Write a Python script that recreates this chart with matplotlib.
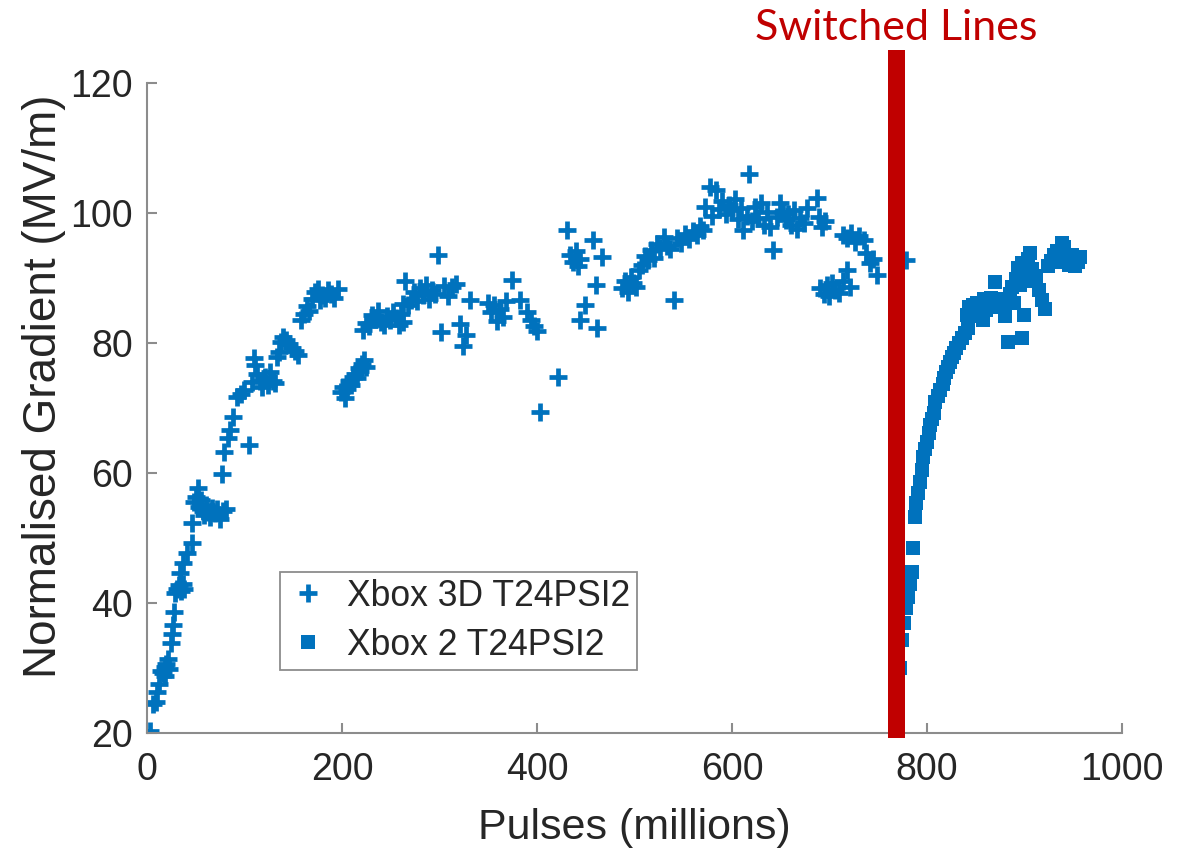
import matplotlib
matplotlib.use("Agg")
import matplotlib.pyplot as plt

# Xbox 3D T24PSI2: (pulses in millions, normalised gradient in MV/m)
xbox3d_pulses = [
    3, 6, 9, 10, 12, 14, 16, 18, 19, 20, 22, 23, 25, 26, 27, 28, 29, 31, 33, 35,
    37, 38, 34, 37, 41, 46, 46, 52, 48, 50, 53, 55, 57, 59, 61, 63, 65, 67, 70, 72,
    75, 78, 81, 77, 79, 83, 85, 88, 92, 96, 100, 105, 108, 110, 111, 113, 116, 118, 121, 124,
    126, 129, 131, 133, 135, 137, 140, 143, 146, 149, 152, 155, 158, 161, 164, 166, 169, 172, 175, 177,
    180, 183, 186, 189, 192, 196,
    199, 201, 203, 205, 207, 209, 211, 213, 215, 217, 219, 221, 223, 225,
    222, 225, 228, 231, 234, 237, 240, 243, 246, 249, 252, 255, 258, 261, 263, 263, 265, 268, 271, 274,
    277, 280, 283, 286, 289, 292, 295, 298, 302, 305, 309, 313, 317, 321, 324, 327, 331, 350, 353, 356,
    359, 362, 365, 368, 374, 383, 390, 394, 397, 400, 403, 422,
    431, 434, 437, 440, 442, 444, 444, 449, 457, 461, 462, 467,
    487, 490, 493, 496, 499, 502, 505, 508, 511, 514, 517, 520, 523, 526, 530, 533, 536, 541, 544, 548,
    552, 556, 560, 564, 567, 570, 572, 577, 580, 584, 587, 590, 594, 597, 600, 603, 606, 609, 611, 615,
    618, 621, 624, 627, 630, 633, 636, 639, 642, 646, 649, 652, 655, 658, 661, 664, 667, 670, 674, 677,
    687, 689, 692, 695,
    690, 694, 697, 700, 703, 706, 710, 714, 718, 721,
    714, 718, 722, 726, 730, 735, 738, 742, 745, 749, 779,
]
xbox3d_gradient = [
    20.3, 24.4, 24.8, 26.3, 27.5, 29.6, 29.2, 30.1, 28.8, 30.6, 31.4, 29.9, 33.8, 35.3, 36.6, 38.6, 41.5, 42.2, 42.7, 41.8,
    43.0, 42.1, 44.6, 46.2, 47.7, 49.2, 52.3, 57.7, 55.5, 56.3, 54.8, 55.9, 54.2, 53.5, 55.1, 54.0, 53.2, 54.6, 53.8, 54.4,
    53.0, 54.1, 54.5, 59.8, 63.2, 65.4, 66.6, 68.6, 71.7, 72.1, 72.8, 64.3, 74.0, 77.7, 76.6, 75.2, 74.1, 73.3, 74.8, 73.6,
    75.5, 74.2, 73.9, 77.8, 78.6, 80.2, 81.0, 80.5, 79.8, 79.3, 78.7, 78.1, 83.5, 84.4, 85.7, 85.0, 86.8, 87.9, 88.3, 86.6,
    87.4, 87.0, 88.1, 87.6, 86.9, 88.3,
    72.4, 73.3, 71.6, 72.9, 74.2, 73.5, 74.8, 75.3, 74.6, 76.1, 75.7, 76.8, 77.4, 76.3,
    82.0, 83.1, 82.6, 84.3, 83.7, 84.9, 83.2, 82.8, 84.1, 83.5, 84.7, 83.9, 82.7, 84.4, 86.0, 83.2, 89.5, 85.9, 86.6, 87.8,
    86.4, 88.5, 87.4, 88.9, 86.8, 88.2, 87.6, 93.5, 81.7, 88.8, 87.3, 88.6, 89.1, 82.9, 79.6, 81.2, 86.6, 86.2, 84.7, 85.9,
    83.4, 85.2, 84.0, 86.4, 89.7, 86.6, 84.8, 83.5, 82.6, 81.8, 69.4, 74.8,
    97.4, 93.6, 92.5, 94.1, 91.9, 93.0, 83.5, 85.8, 95.8, 88.9, 82.3, 93.2,
    88.4, 89.6, 87.9, 90.1, 89.3, 88.6, 91.2, 92.0, 93.4, 92.7, 94.3, 93.1, 95.2, 94.6, 96.3, 95.0, 94.4, 86.6, 96.1, 95.4,
    96.8, 96.0, 97.2, 96.6, 98.0, 97.4, 101.0, 104.0, 99.6, 103.5, 100.6, 101.8, 99.8, 101.2, 100.4, 102.1, 99.1, 100.8, 97.4, 99.6,
    106.0, 98.7, 100.9, 99.3, 101.5, 98.2, 100.1, 97.8, 94.3, 99.4, 101.6, 100.2, 98.9, 99.8, 98.1, 100.5, 97.6, 99.2, 98.5, 100.7,
    102.3, 99.4, 97.9, 98.8,
    88.4, 87.6, 88.9, 87.2, 89.3, 88.1, 87.7, 89.5, 91.2, 88.6,
    96.6, 96.1, 96.9, 95.6, 96.4, 95.8, 93.8, 92.3, 92.9, 90.5, 92.8,
]

# Xbox 2 T24PSI2
xbox2_pulses = [
    772, 774, 776, 779, 781, 783, 785, 786, 788, 789, 791, 793, 795, 796, 798, 800, 802, 803, 805, 807,
    808, 811, 813, 816, 818, 820, 822, 824, 826, 828, 830, 833, 836, 839, 842, 841, 843, 845, 847, 849,
    851, 853, 855, 857, 859, 861, 864, 866, 868, 870, 872, 875, 877, 880, 883, 885, 887, 889, 891, 893,
    895, 897, 898, 900, 902, 904, 906, 908, 910, 912, 915, 918, 921, 924, 927, 930, 933, 936, 939, 941,
    943, 946, 949, 952, 955, 957,
]
xbox2_gradient = [
    30.0, 34.3, 37.0, 39.2, 40.9, 43.0, 44.8, 48.5, 53.3, 55.4, 57.0, 58.6, 60.5, 62.5, 63.7, 64.8, 66.1, 67.4, 68.3, 69.2,
    70.9, 71.8, 72.8, 73.7, 74.6, 75.5, 76.3, 77.1, 77.8, 78.5, 79.2, 80.0, 80.8, 81.5, 82.3, 84.3, 85.6, 84.8, 85.9, 84.1,
    86.2, 85.3, 84.6, 83.5, 86.8, 85.1, 86.4, 87.0, 85.7, 89.4, 86.3, 85.5, 86.8, 84.2, 80.2, 87.5, 88.6, 86.1, 89.9, 91.5,
    88.9, 92.3, 80.8, 84.3, 90.7, 92.9, 93.8, 91.4, 89.6, 90.3, 88.2, 86.6, 85.3, 91.8, 92.6, 93.5, 94.1, 92.4, 95.4, 94.7,
    93.1, 92.0, 93.6, 91.8, 92.5, 93.3,
]

switch_start, switch_end = 760, 777

blue = "#0072BD"
text_col = "#262626"
axis_col = "#8c8c8c"

plt.rcParams["font.family"] = ["Liberation Sans", "DejaVu Sans"]

fig = plt.figure(figsize=(11.89, 8.49), dpi=100)
ax = fig.add_axes([0.1236, 0.1366, 0.82, 0.7656])

ax.plot(xbox3d_pulses, xbox3d_gradient, linestyle="none", marker="+",
        markersize=13.5, markeredgewidth=3.4, color=blue, label="Xbox 3D T24PSI2")
ax.plot(xbox2_pulses, xbox2_gradient, linestyle="none", marker="s",
        markersize=10.5, markeredgewidth=0, color=blue, label="Xbox 2 T24PSI2")

# red bar marking where the lines were swapped
ax.axvspan(switch_start, switch_end, ymin=-0.008, ymax=1.051, color="#C00000",
           lw=0, zorder=5, clip_on=False)
ax.text((switch_start + switch_end) / 2, 1.084, "Switched Lines", transform=ax.get_xaxis_transform(),
        ha="center", va="center", fontsize=31, color="#C00000", family=["Lato", "DejaVu Sans"])

ax.set_xlim(0, 1000)
ax.set_ylim(20, 120)
ax.set_xticks([0, 200, 400, 600, 800, 1000])
ax.set_yticks([20, 40, 60, 80, 100, 120])

for side in ["top", "right"]:
    ax.spines[side].set_visible(False)
for side in ["left", "bottom"]:
    ax.spines[side].set_color(axis_col)
    ax.spines[side].set_linewidth(1.5)
ax.tick_params(direction="in", length=7, width=1.5, color=axis_col,
               labelsize=27, labelcolor=text_col)
ax.tick_params(axis="x", pad=14)
ax.tick_params(axis="y", pad=10)

ax.set_xlabel("Pulses (millions)", fontsize=31, color=text_col, labelpad=14)
ax.set_ylabel("Normalised Gradient (MV/m)", fontsize=33, color=text_col, labelpad=3)
ax.yaxis.label.set_y(0.534)

leg = ax.legend(loc="lower left", bbox_to_anchor=(0.136, 0.097), borderaxespad=0,
                fontsize=25.6, frameon=True, fancybox=False, framealpha=1,
                edgecolor=axis_col, handlelength=1.2, handletextpad=0.5,
                borderpad=0.2, labelspacing=0.4)
leg.get_frame().set_linewidth(1.3)
for t in leg.get_texts():
    t.set_color(text_col)

fig.savefig("out.png", dpi=100)
